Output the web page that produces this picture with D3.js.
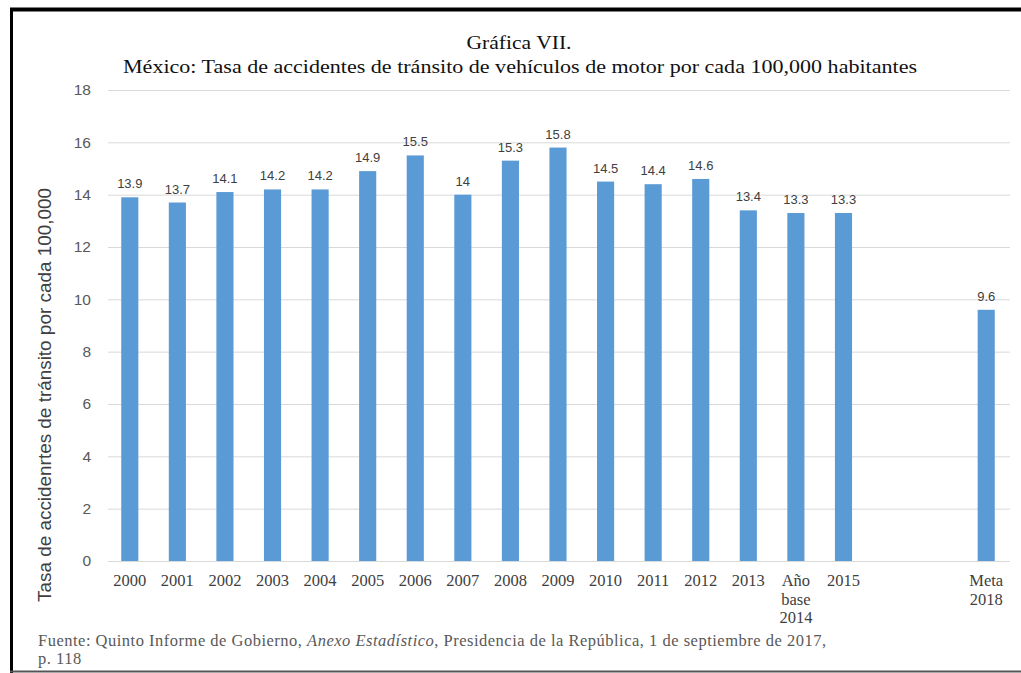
<!DOCTYPE html>
<html>
<head>
<meta charset="utf-8">
<script src="https://cdn.jsdelivr.net/npm/d3@7"></script>
<style>
  html, body { margin: 0; padding: 0; background: #fff; }
  svg { display: block; }
</style>
</head>
<body>
<svg id="chart" width="1021" height="673"></svg>
<script>
// Road-traffic accident rate per 100,000 inhabitants, Mexico
const categories = ["2000","2001","2002","2003","2004","2005","2006","2007","2008","2009",
                    "2010","2011","2012","2013","2014","2015","2016","2017","2018"];
const values = [13.9, 13.7, 14.1, 14.2, 14.2, 14.9, 15.5, 14, 15.3, 15.8,
                14.5, 14.4, 14.6, 13.4, 13.3, 13.3, null, null, 9.6];
const tickLabels = [["2000"],["2001"],["2002"],["2003"],["2004"],["2005"],["2006"],["2007"],
                    ["2008"],["2009"],["2010"],["2011"],["2012"],["2013"],["Año","base","2014"],
                    ["2015"],[""],[""],["Meta","2018"]];
const yTicks = [0, 2, 4, 6, 8, 10, 12, 14, 16, 18];

const svg = d3.select("#chart");
const W = 1021, H = 673;

// frame
svg.append("rect").attr("x", 0).attr("y", 0).attr("width", W).attr("height", H).attr("fill", "#fff");
svg.append("line").attr("x1", 10).attr("x2", W).attr("y1", 9.5).attr("y2", 9.5)
  .attr("stroke", "#000").attr("stroke-width", 4);
svg.append("line").attr("x1", 11.5).attr("x2", 11.5).attr("y1", 8).attr("y2", H)
  .attr("stroke", "#000").attr("stroke-width", 3);
svg.append("line").attr("x1", 10).attr("x2", W).attr("y1", 671.5).attr("y2", 671.5)
  .attr("stroke", "#555").attr("stroke-width", 2);

const serif = "'Liberation Serif', 'Times New Roman', serif";
const sans = "'Liberation Sans', Arial, sans-serif";

// titles
svg.append("text").attr("x", 519).attr("y", 49).attr("text-anchor", "middle")
  .attr("font-family", serif).attr("font-size", 19).attr("fill", "#111")
  .attr("textLength", 105).attr("lengthAdjust", "spacingAndGlyphs")
  .text("Gráfica VII.");
svg.append("text").attr("x", 520).attr("y", 73).attr("text-anchor", "middle")
  .attr("font-family", serif).attr("font-size", 19).attr("fill", "#111")
  .attr("textLength", 794).attr("lengthAdjust", "spacingAndGlyphs")
  .text("México: Tasa de accidentes de tránsito de vehículos de motor por cada 100,000 habitantes");

const x = d3.scaleBand().domain(categories).range([106, 1010]).paddingInner(0.64).paddingOuter(0.32);
const y = d3.scaleLinear().domain([0, 18]).range([561, 90]);

// gridlines + y labels
const yAxis = d3.axisLeft(y).tickValues(yTicks).tickSize(-(1010 - 108)).tickPadding(17);
const gy = svg.append("g").attr("transform", "translate(108,0)").call(yAxis);
gy.select(".domain").remove();
gy.selectAll(".tick line").attr("stroke", "#d9d9d9").attr("stroke-width", 1);
gy.selectAll(".tick text").attr("font-family", sans).attr("font-size", 15.5).attr("fill", "#595959");

// bars
const data = categories.map((c, i) => ({c, v: values[i], lines: tickLabels[i]}));
svg.append("g").selectAll("rect").data(data.filter(d => d.v != null)).join("rect")
  .attr("x", d => x(d.c)).attr("width", x.bandwidth())
  .attr("y", d => y(d.v)).attr("height", d => y(0) - y(d.v))
  .attr("fill", "#5b9bd5");

// value labels
svg.append("g").selectAll("text").data(data.filter(d => d.v != null)).join("text")
  .attr("x", d => x(d.c) + x.bandwidth() / 2).attr("y", d => y(d.v) - 9)
  .attr("text-anchor", "middle").attr("font-family", sans).attr("font-size", 13)
  .attr("fill", "#404040").text(d => String(d.v));

// x category labels
const gx = svg.append("g");
data.forEach(d => {
  const t = gx.append("text").attr("text-anchor", "middle")
    .attr("font-family", serif).attr("font-size", 16.5).attr("fill", "#404040");
  d.lines.forEach((ln, k) => {
    t.append("tspan").attr("x", x(d.c) + x.bandwidth() / 2).attr("y", 586 + k * 18.5).text(ln);
  });
});

// y axis title
svg.append("text").attr("transform", "translate(51,395) rotate(-90)")
  .attr("text-anchor", "middle").attr("font-family", sans).attr("font-size", 18)
  .attr("textLength", 414).attr("lengthAdjust", "spacingAndGlyphs")
  .attr("fill", "#404040").text("Tasa de accidenrtes de tránsito por cada 100,000");

// source note
const src = svg.append("text").attr("x", 38).attr("y", 646)
  .attr("font-family", serif).attr("font-size", 16.5).attr("letter-spacing", 0.5)
  .attr("fill", "#595959");
src.append("tspan").text("Fuente: Quinto Informe de Gobierno, ");
src.append("tspan").attr("font-style", "italic").text("Anexo Estadístico");
src.append("tspan").text(", Presidencia de la República, 1 de septiembre de 2017,");
svg.append("text").attr("x", 38).attr("y", 664)
  .attr("font-family", serif).attr("font-size", 16.5).attr("letter-spacing", 0.5)
  .attr("fill", "#595959").text("p. 118");
</script>
</body>
</html>
